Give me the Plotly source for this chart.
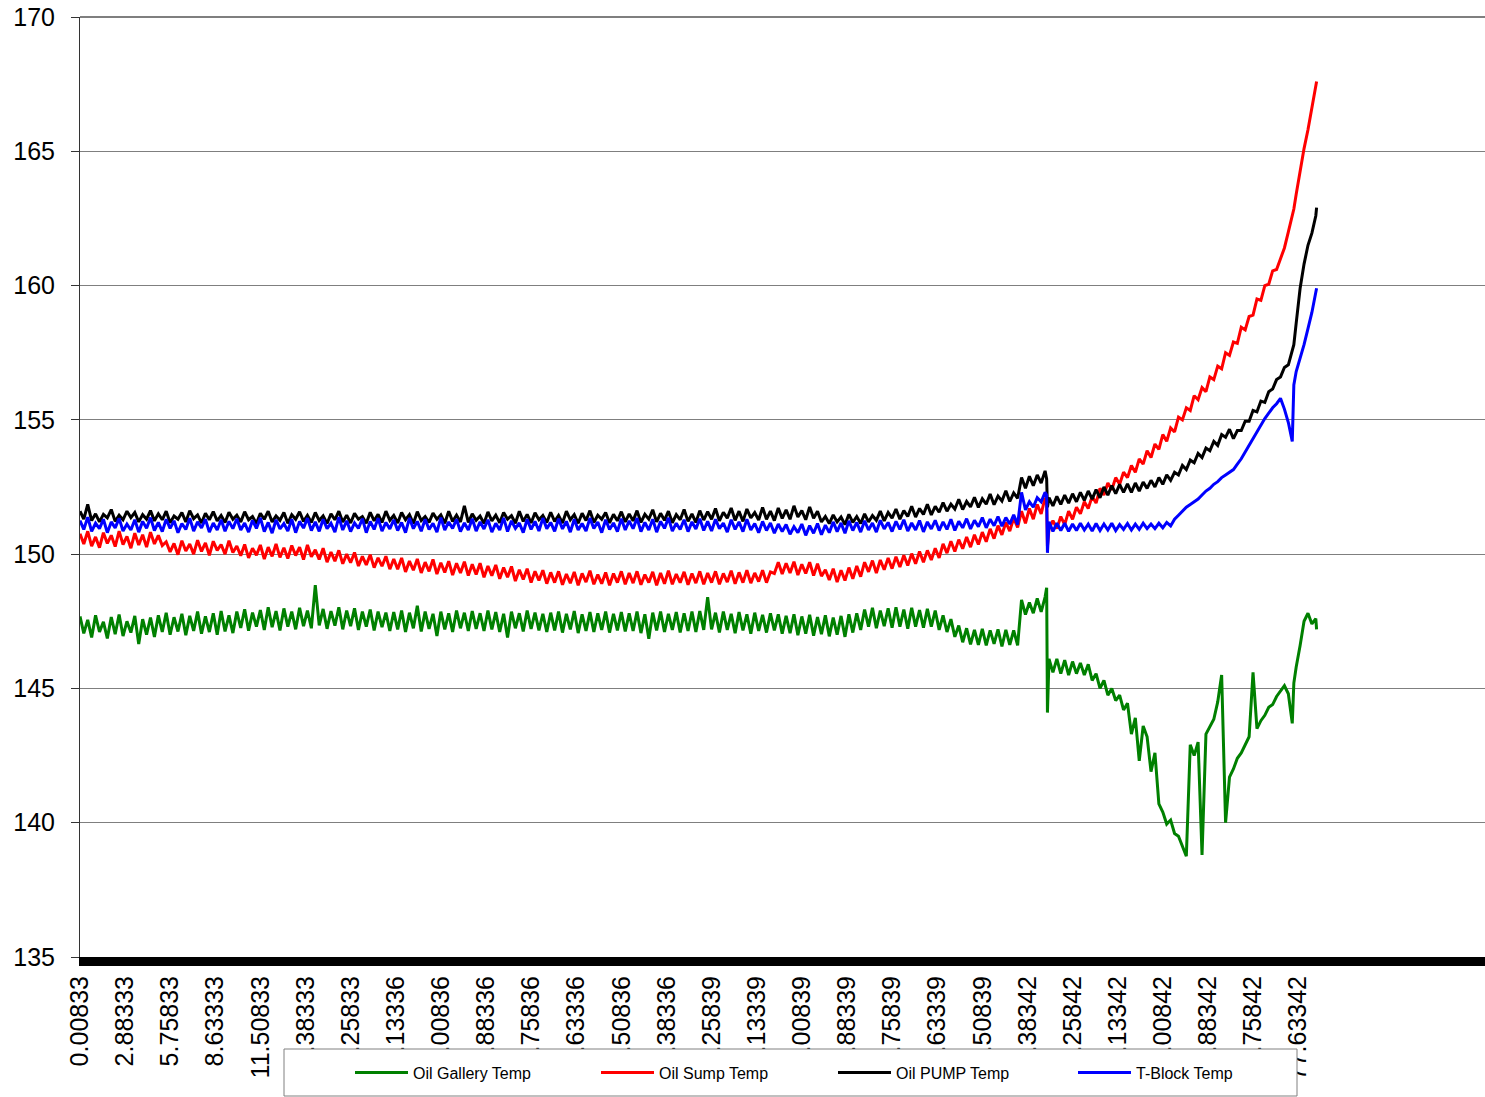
import plotly.graph_objects as go

# ---- data: sample time (minutes) and temperatures ----
minutes = [
    0.00833, 0.25, 0.5, 0.75, 1.0, 1.25, 1.5, 1.75, 2.0, 2.25, 2.5, 2.75, 3.0, 3.25, 3.5, 3.75, 4.0, 4.25, 4.5, 4.75,
    5.0, 5.25, 5.5, 5.75, 6.0, 6.25, 6.5, 6.75, 7.0, 7.25, 7.5, 7.75, 8.0, 8.25, 8.5, 8.75, 9.0, 9.25, 9.5, 9.75,
    10.0, 10.25, 10.5, 10.75, 11.0, 11.25, 11.5, 11.75, 12.0, 12.25, 12.5, 12.75, 13.0, 13.25, 13.5, 13.75, 14.0, 14.25, 14.5, 14.75,
    15.0, 15.25, 15.5, 15.75, 16.0, 16.25, 16.5, 16.75, 17.0, 17.25, 17.5, 17.75, 18.0, 18.25, 18.5, 18.75, 19.0, 19.25, 19.5, 19.75,
    20.0, 20.25, 20.5, 20.75, 21.0, 21.25, 21.5, 21.75, 22.0, 22.25, 22.5, 22.75, 23.0, 23.25, 23.5, 23.75, 24.0, 24.25, 24.5, 24.75,
    25.0, 25.25, 25.5, 25.75, 26.0, 26.25, 26.5, 26.75, 27.0, 27.25, 27.5, 27.75, 28.0, 28.25, 28.5, 28.75, 29.0, 29.25, 29.5, 29.75,
    30.0, 30.25, 30.5, 30.75, 31.0, 31.25, 31.5, 31.75, 32.0, 32.25, 32.5, 32.75, 33.0, 33.25, 33.5, 33.75, 34.0, 34.25, 34.5, 34.75,
    35.0, 35.25, 35.5, 35.75, 36.0, 36.25, 36.5, 36.75, 37.0, 37.25, 37.5, 37.75, 38.0, 38.25, 38.5, 38.75, 39.0, 39.25, 39.5, 39.75,
    40.0, 40.25, 40.5, 40.75, 41.0, 41.25, 41.5, 41.75, 42.0, 42.25, 42.5, 42.75, 43.0, 43.25, 43.5, 43.75, 44.0, 44.25, 44.5, 44.75,
    45.0, 45.25, 45.5, 45.75, 46.0, 46.25, 46.5, 46.75, 47.0, 47.25, 47.5, 47.75, 48.0, 48.25, 48.5, 48.75, 49.0, 49.25, 49.5, 49.75,
    50.0, 50.25, 50.5, 50.75, 51.0, 51.25, 51.5, 51.75, 52.0, 52.25, 52.5, 52.75, 53.0, 53.25, 53.5, 53.75, 54.0, 54.25, 54.5, 54.75,
    55.0, 55.25, 55.5, 55.75, 56.0, 56.25, 56.5, 56.75, 57.0, 57.25, 57.5, 57.75, 58.0, 58.25, 58.5, 58.75, 59.0, 59.25, 59.5, 59.75,
    60.0, 60.25, 60.5, 60.75, 61.0, 61.25, 61.5, 61.6, 61.65, 61.75, 62.0, 62.25, 62.5, 62.75, 63.0, 63.25, 63.5, 63.75, 64.0, 64.25, 64.5, 64.75,
    65.0, 65.25, 65.5, 65.75, 66.0, 66.25, 66.5, 66.75, 67.0, 67.25, 67.5, 67.75, 68.0, 68.25, 68.5, 68.75, 69.0, 69.25, 69.5, 69.75,
    70.0, 70.25, 70.5, 70.75, 71.0, 71.25, 71.5, 71.75, 72.0, 72.25, 72.5, 72.75, 73.0, 73.25, 73.5, 73.75, 74.0, 74.25, 74.5, 74.75,
    75.0, 75.25, 75.5, 75.75, 76.0, 76.25, 76.5, 76.75, 77.0, 77.25, 77.35, 77.5, 77.75, 78.0, 78.25, 78.5, 78.75, 78.8,
]

oil_gallery_temp = [
    147.68, 147.05, 147.55, 146.9, 147.72, 147.1, 147.48, 146.86, 147.66, 147.02, 147.75, 146.95, 147.5, 147.08, 147.7, 146.65, 147.58, 147.0, 147.64, 146.92,
    147.72, 147.1, 147.82, 147.0, 147.65, 147.12, 147.78, 146.98, 147.7, 147.14, 147.86, 147.04, 147.68, 147.1, 147.8, 147.0, 147.88, 147.12, 147.72, 147.06,
    147.86, 147.25, 147.95, 147.15, 147.82, 147.3, 147.92, 147.18, 148.02, 147.28, 147.88, 147.16, 147.98, 147.3, 147.86, 147.2, 148.0, 147.32, 147.9, 147.24,
    148.85, 147.35, 147.96, 147.22, 147.88, 147.34, 148.02, 147.2, 147.9, 147.32, 147.98, 147.18, 147.86, 147.3, 147.94, 147.16, 147.86, 147.28, 147.82, 147.14,
    147.84, 147.2, 147.9, 147.1, 147.82, 147.24, 148.08, 147.12, 147.86, 147.22, 147.78, 146.95, 147.86, 147.2, 147.8, 147.1, 147.9, 147.24, 147.82, 147.14,
    147.88, 147.22, 147.8, 147.14, 147.9, 147.2, 147.84, 147.1, 147.78, 146.9, 147.86, 147.24, 147.8, 147.12, 147.9, 147.22, 147.82, 147.16, 147.78, 147.1,
    147.82, 147.16, 147.86, 147.08, 147.78, 147.2, 147.88, 147.06, 147.76, 147.14, 147.84, 147.1, 147.8, 147.18, 147.86, 147.08, 147.78, 147.16, 147.84, 147.12,
    147.8, 147.14, 147.86, 147.06, 147.76, 146.85, 147.82, 147.16, 147.86, 147.1, 147.78, 147.18, 147.84, 147.08, 147.8, 147.14, 147.86, 147.1, 147.88, 147.18,
    148.4, 147.2, 147.82, 147.08, 147.86, 147.18, 147.78, 147.06, 147.84, 147.16, 147.76, 147.04, 147.82, 147.14, 147.74, 147.08, 147.8, 147.16, 147.76, 147.04,
    147.7, 147.06, 147.76, 146.98, 147.68, 147.04, 147.74, 146.96, 147.66, 147.02, 147.72, 146.94, 147.64, 147.0, 147.7, 146.92, 147.76, 147.08, 147.8, 147.18,
    147.94, 147.3, 148.0, 147.24, 147.9, 147.32, 147.98, 147.26, 148.02, 147.3, 147.94, 147.22, 148.0, 147.3, 147.92, 147.26, 147.96, 147.3, 147.9, 147.18,
    147.72, 147.1, 147.58, 146.92, 147.34, 146.72, 147.24, 146.64, 147.18, 146.62, 147.22, 146.6, 147.16, 146.66, 147.2, 146.56, 147.18, 146.62, 147.16, 146.6,
    148.3, 147.75, 148.2, 147.8, 148.35, 147.85, 148.4, 148.75, 144.1, 146.1, 145.6, 146.1, 145.55, 146.05, 145.5, 146.0, 145.55, 145.95, 145.5, 145.9, 145.3, 145.55,
    145.0, 145.3, 144.75, 145.0, 144.55, 144.75, 144.2, 144.45, 143.3, 143.9, 142.3, 143.6, 143.2, 141.9, 142.6, 140.7, 140.4, 139.95, 140.1, 139.6,
    139.5, 139.15, 138.75, 142.9, 142.5, 143.0, 138.8, 143.3, 143.6, 143.85, 144.5, 145.5, 140.0, 141.7, 142.0, 142.4, 142.6, 142.9, 143.2, 145.6,
    143.5, 143.8, 144.0, 144.3, 144.4, 144.7, 144.9, 145.1, 144.8, 143.7, 145.2, 145.8, 146.6, 147.5, 147.8, 147.4, 147.6, 147.2,
]

oil_sump_temp = [
    150.76, 150.38, 150.85, 150.3, 150.64, 150.24, 150.8, 150.4, 150.7, 150.28, 150.86, 150.36, 150.66, 150.22, 150.78, 150.34, 150.72, 150.26, 150.82, 150.38,
    150.7, 150.32, 150.46, 150.08, 150.4, 149.98, 150.5, 150.12, 150.38, 150.0, 150.52, 150.1, 150.42, 149.96, 150.48, 150.14, 150.36, 150.0, 150.5, 150.06,
    150.3, 149.94, 150.36, 149.86, 150.22, 149.96, 150.34, 149.82, 150.26, 149.92, 150.38, 149.88, 150.24, 149.84, 150.32, 149.95, 150.26, 149.8, 150.34, 149.9,
    150.16, 149.8, 150.22, 149.7, 150.08, 149.74, 150.14, 149.64, 150.0, 149.68, 150.06, 149.56, 149.92, 149.6, 149.98, 149.5, 149.86, 149.55, 149.92, 149.44,
    149.82, 149.44, 149.86, 149.34, 149.74, 149.4, 149.82, 149.3, 149.7, 149.36, 149.8, 149.26, 149.68, 149.32, 149.74, 149.22, 149.66, 149.3, 149.72, 149.2,
    149.62, 149.24, 149.66, 149.14, 149.56, 149.2, 149.6, 149.08, 149.5, 149.14, 149.54, 149.0, 149.42, 149.06, 149.46, 148.94, 149.36, 149.02, 149.4, 148.9,
    149.32, 148.94, 149.36, 148.86, 149.26, 148.92, 149.34, 148.84, 149.28, 148.96, 149.38, 148.88, 149.24, 148.9, 149.32, 148.84, 149.28, 148.94, 149.36, 148.88,
    149.3, 148.92, 149.36, 148.86, 149.24, 148.94, 149.34, 148.84, 149.3, 148.9, 149.38, 148.88, 149.26, 148.94, 149.34, 148.86, 149.28, 148.92, 149.36, 148.88,
    149.3, 148.94, 149.36, 148.88, 149.28, 148.96, 149.38, 148.9, 149.32, 148.94, 149.4, 148.92, 149.3, 148.98, 149.4, 148.94, 149.34, 149.28, 149.7, 149.26,
    149.66, 149.3, 149.72, 149.22, 149.62, 149.28, 149.7, 149.2, 149.64, 149.18, 149.42, 149.04, 149.46, 148.96, 149.4, 149.02, 149.5, 149.08, 149.56, 149.16,
    149.7, 149.34, 149.76, 149.3, 149.78, 149.42, 149.86, 149.46, 149.9, 149.52, 149.96, 149.58, 150.02, 149.64, 150.1, 149.7, 150.14, 149.78, 150.22, 149.86,
    150.38, 150.04, 150.48, 150.1, 150.54, 150.2, 150.64, 150.26, 150.72, 150.36, 150.82, 150.46, 150.94, 150.58, 151.06, 150.72, 151.18, 150.86, 151.34, 151.0,
    151.6, 151.15, 151.7, 151.3, 151.85, 151.5, 152.1, 151.95, 150.3, 150.95, 151.25, 150.95, 151.4, 151.1, 151.6, 151.3, 151.75, 151.5, 151.95, 151.7, 152.15, 151.9,
    152.45, 152.2, 152.65, 152.4, 152.85, 152.6, 153.05, 152.85, 153.3, 153.05, 153.55, 153.35, 153.85, 153.6, 154.1, 153.9, 154.45, 154.2, 154.7, 154.55,
    155.1, 155.0, 155.45, 155.35, 155.9, 155.75, 156.2, 156.05, 156.6, 156.5, 157.0, 156.9, 157.5, 157.4, 157.9, 157.85, 158.45, 158.35, 158.85, 158.9,
    159.5, 159.45, 160.0, 160.05, 160.55, 160.6, 161.0, 161.4, 162.0, 162.55, 162.85, 163.4, 164.3, 165.1, 165.8, 166.6, 167.4, 167.6,
]

oil_pump_temp = [
    151.6, 151.3, 151.85, 151.25, 151.5, 151.2, 151.48, 151.35, 151.66, 151.22, 151.45, 151.28, 151.6, 151.36, 151.55, 151.2, 151.47, 151.3, 151.62, 151.24,
    151.5, 151.28, 151.6, 151.17, 151.42, 151.3, 151.55, 151.2, 151.62, 151.32, 151.46, 151.16, 151.52, 151.28, 151.58, 151.24, 151.44, 151.18, 151.56, 151.3,
    151.45, 151.2, 151.58, 151.28, 151.4, 151.14, 151.52, 151.3, 151.6, 151.2, 151.42, 151.26, 151.55, 151.15, 151.47, 151.3, 151.58, 151.22, 151.44, 151.18,
    151.55, 151.25, 151.42, 151.14, 151.5, 151.28, 151.6, 151.2, 151.45, 151.16, 151.52, 151.3, 151.4, 151.15, 151.56, 151.24, 151.48, 151.18, 151.6, 151.26,
    151.44, 151.16, 151.55, 151.28, 151.47, 151.14, 151.58, 151.25, 151.4, 151.18, 151.53, 151.3, 151.46, 151.15, 151.6, 151.22, 151.45, 151.2, 151.8, 151.18,
    151.5, 151.26, 151.42, 151.14, 151.57, 151.24, 151.45, 151.17, 151.55, 151.3, 151.43, 151.15, 151.6, 151.22, 151.48, 151.16, 151.54, 151.28, 151.44, 151.18,
    151.56, 151.22, 151.44, 151.16, 151.6, 151.28, 151.47, 151.15, 151.52, 151.25, 151.62, 151.18, 151.45, 151.3, 151.55, 151.16, 151.48, 151.24, 151.58, 151.2,
    151.5, 151.24, 151.62, 151.18, 151.48, 151.3, 151.65, 151.2, 151.52, 151.26, 151.6, 151.17, 151.47, 151.28, 151.66, 151.22, 151.5, 151.18, 151.62, 151.27,
    151.58, 151.3, 151.7, 151.24, 151.56, 151.34, 151.72, 151.26, 151.6, 151.22, 151.68, 151.35, 151.55, 151.27, 151.74, 151.3, 151.6, 151.25, 151.72, 151.33,
    151.65, 151.3, 151.8, 151.38, 151.62, 151.28, 151.76, 151.34, 151.6, 151.2, 151.4, 151.14, 151.46, 151.2, 151.38, 151.1, 151.48, 151.18, 151.4, 151.14,
    151.5, 151.2, 151.44, 151.26, 151.6, 151.24, 151.55, 151.34, 151.68, 151.3, 151.62, 151.4, 151.78, 151.38, 151.7, 151.48, 151.86, 151.46, 151.78, 151.56,
    151.92, 151.6, 151.86, 151.68, 152.04, 151.66, 151.96, 151.76, 152.12, 151.74, 152.06, 151.86, 152.24, 151.84, 152.16, 151.98, 152.36, 151.96, 152.28, 152.08,
    152.85, 152.45, 152.9, 152.55, 152.95, 152.65, 153.1, 152.8, 151.75, 152.1, 151.8, 152.15, 151.85, 152.2, 151.9, 152.25, 151.95, 152.3, 152.0, 152.35, 152.05, 152.4,
    152.1, 152.5, 152.2, 152.55, 152.25, 152.6, 152.3, 152.62, 152.3, 152.65, 152.35, 152.68, 152.45, 152.75, 152.5, 152.85, 152.6, 152.95, 152.75, 153.05,
    152.95, 153.3, 153.15, 153.5, 153.4, 153.75, 153.6, 153.95, 153.85, 154.2, 154.05, 154.45, 154.35, 154.65, 154.3, 154.6, 154.6, 154.95, 154.95, 155.35,
    155.3, 155.7, 155.65, 156.05, 156.15, 156.5, 156.6, 156.95, 157.05, 157.55, 157.8, 158.6, 159.9, 160.8, 161.5, 161.95, 162.6, 162.9,
]

t_block_temp = [
    151.25, 150.92, 151.38, 150.85, 151.15, 150.95, 151.3, 150.8, 151.2, 150.98, 151.33, 150.86, 151.12, 150.9, 151.28, 150.82, 151.22, 150.96, 151.36, 150.88,
    151.18, 150.84, 151.3, 150.96, 151.24, 150.8, 151.14, 150.92, 151.34, 150.86, 151.2, 150.98, 151.3, 150.82, 151.16, 150.9, 151.28, 150.85, 151.22, 150.95,
    151.32, 150.9, 151.16, 150.82, 151.26, 150.96, 151.35, 150.84, 151.18, 150.78, 151.28, 150.94, 151.14, 150.86, 151.3, 150.8, 151.22, 150.97, 151.34, 150.88,
    151.2, 150.85, 151.3, 150.95, 151.15, 150.82, 151.38, 150.9, 151.24, 150.84, 151.16, 150.96, 151.32, 150.8, 151.22, 150.92, 151.34, 150.86, 151.18, 150.94,
    151.28, 150.88, 151.18, 150.8, 151.34, 150.95, 151.22, 150.85, 151.3, 150.92, 151.15, 150.82, 151.36, 150.9, 151.2, 150.96, 151.3, 150.84, 151.16, 150.9,
    151.32, 150.86, 151.2, 150.94, 151.28, 150.82, 151.15, 150.9, 151.35, 150.84, 151.24, 150.96, 151.16, 150.8, 151.3, 150.92, 151.22, 150.86, 151.34, 150.95,
    151.18, 150.85, 151.32, 150.94, 151.22, 150.82, 151.3, 150.9, 151.14, 150.86, 151.34, 150.96, 151.2, 150.8, 151.28, 150.92, 151.16, 150.84, 151.32, 150.9,
    151.24, 150.95, 151.34, 150.84, 151.18, 150.9, 151.3, 150.82, 151.22, 150.96, 151.35, 150.86, 151.15, 150.92, 151.28, 150.84, 151.2, 150.94, 151.32, 150.88,
    151.22, 150.86, 151.3, 150.95, 151.16, 150.82, 151.28, 150.92, 151.2, 150.84, 151.3, 150.9, 151.14, 150.8, 151.22, 150.88, 151.16, 150.78, 151.12, 150.84,
    151.1, 150.74, 151.02, 150.8, 151.12, 150.7, 151.06, 150.78, 151.14, 150.72, 151.08, 150.8, 151.2, 150.84, 151.16, 150.78, 151.24, 150.88, 151.18, 150.82,
    151.24, 150.9, 151.16, 150.82, 151.26, 150.94, 151.18, 150.84, 151.22, 150.92, 151.28, 150.86, 151.16, 150.9, 151.25, 150.83, 151.2, 150.94, 151.26, 150.88,
    151.2, 150.92, 151.3, 150.88, 151.22, 150.98, 151.32, 150.94, 151.26, 151.02, 151.36, 150.98, 151.3, 151.06, 151.4, 151.04, 151.36, 151.12, 151.46, 151.1,
    152.3, 151.65, 151.95, 151.75, 152.1, 151.95, 152.3, 152.2, 150.05, 151.2, 150.85, 151.15, 150.88, 151.15, 150.85, 151.12, 150.88, 151.15, 150.9, 151.12, 150.86, 151.14,
    150.88, 151.12, 150.9, 151.15, 150.88, 151.1, 150.92, 151.14, 150.9, 151.12, 150.92, 151.15, 150.95, 151.12, 150.95, 151.15, 150.98, 151.18, 151.05, 151.3,
    151.45, 151.6, 151.75, 151.85, 151.95, 152.05, 152.2, 152.35, 152.45, 152.6, 152.7, 152.85, 152.95, 153.05, 153.15, 153.35, 153.55, 153.8, 154.05, 154.35,
    154.6, 154.85, 155.05, 155.25, 155.45, 155.6, 155.8, 155.4, 154.9, 154.2, 156.3, 156.8, 157.3, 157.8, 158.4, 159.0, 159.75, 159.9,
]

tick_values = [0.00833, 2.88333, 5.75833, 8.63333, 11.50833, 14.38333, 17.25833,
               20.13336, 23.00836, 25.88336, 28.75836, 31.63336, 34.50836, 37.38336,
               40.25839, 43.13339, 46.00839, 48.88339, 51.75839, 54.63339, 57.50839,
               60.38342, 63.25842, 66.13342, 69.00842, 71.88342, 74.75842, 77.63342]
tick_labels = ["0.00833", "2.88333", "5.75833", "8.63333", "11.50833", "14.38333",
               "17.25833", "20.13336", "23.00836", "25.88336", "28.75836", "31.63336",
               "34.50836", "37.38336", "40.25839", "43.13339", "46.00839", "48.88339",
               "51.75839", "54.63339", "57.50839", "60.38342", "63.25842", "66.13342",
               "69.00842", "71.88342", "74.75842", "77.63342"]

series_names = ["Oil Gallery Temp", "Oil Sump Temp", "Oil PUMP Temp", "T-Block Temp"]
series_colors = ["#008000", "#FF0000", "#000000", "#0000FF"]
series_values = [oil_gallery_temp, oil_sump_temp, oil_pump_temp, t_block_temp]

for s in series_values:
    assert len(s) == len(minutes), (len(s), len(minutes))

# ---- figure geometry (body margin removed in the page, so figure = window) ----
W, H = 1485, 1097
L, R, T = 80, 0, 17
PLOT_BOTTOM = 957
B = H - PLOT_BOTTOM
PW, PH = W - L - R, H - T - B


def px_x(p):  # window pixel -> paper x
    return (p - L) / PW


def px_y(p):  # window pixel -> paper y
    return (PLOT_BOTTOM - p) / PH


font_family = "Liberation Sans, Arial, sans-serif"
legend_ids = ["legend", "legend2", "legend3", "legend4"]
legend_line_starts = [355, 601, 838, 1078]

fig = go.Figure()
for name, color, vals, lid in zip(series_names, series_colors, series_values, legend_ids):
    fig.add_trace(go.Scatter(x=minutes, y=vals, mode="lines", name=name, legend=lid,
                             line=dict(color=color, width=3)))

legend_layouts = {}
for lid, start in zip(legend_ids, legend_line_starts):
    legend_layouts[lid] = dict(
        orientation="h",
        xref="paper", yref="paper",
        x=px_x(start - 5), xanchor="left",
        y=px_y(1072.5), yanchor="middle",
        bgcolor="rgba(0,0,0,0)", borderwidth=0,
        font=dict(size=16, family=font_family, color="black"),
        itemwidth=53,
    )

fig.update_layout(
    width=W, height=H,
    margin=dict(l=L, r=R, t=T, b=B, pad=0, autoexpand=False),
    paper_bgcolor="white", plot_bgcolor="white",
    font=dict(family=font_family, color="black"),
    showlegend=True,
    xaxis=dict(
        range=[0.00833, 89.53],
        tickmode="array", tickvals=tick_values, ticktext=tick_labels,
        tickangle=-90, tickfont=dict(size=25, family=font_family, color="black"),
        showgrid=False, zeroline=False,
        showline=True, linecolor="black", linewidth=9,
        ticks="", automargin=False,
    ),
    yaxis=dict(
        range=[135, 170], tickmode="linear", tick0=135, dtick=5,
        tickfont=dict(size=25, family=font_family, color="black"),
        showgrid=True, gridcolor="#7f7f7f", gridwidth=1,
        zeroline=False,
        showline=True, linecolor="#333333", linewidth=1,
        ticks="outside", ticklen=8, tickcolor="#333333",
        ticklabelstandoff=11, ticklabeloverflow="allow", automargin=False,
    ),
    shapes=[
        dict(type="line", xref="paper", yref="paper", x0=0, x1=1, y0=1, y1=1,
             line=dict(color="#7f7f7f", width=2), layer="above"),
        dict(type="rect", xref="paper", yref="paper",
             x0=px_x(284), x1=px_x(1297), y0=px_y(1096), y1=px_y(1049),
             fillcolor="white", line=dict(color="#808080", width=1), layer="above"),
    ],
    **legend_layouts,
)

fig.write_html(
    "out.html",
    config={"displayModeBar": False},
    post_script="document.body.style.margin='0';document.body.style.overflow='hidden';",
)
